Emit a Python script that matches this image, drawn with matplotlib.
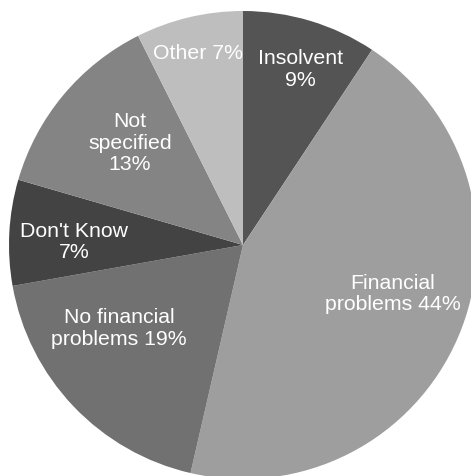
import numpy as np
import matplotlib.pyplot as plt

plt.rcParams['font.family'] = ['Liberation Sans', 'DejaVu Sans']

names = ["Insolvent", "Financial\nproblems", "No financial\nproblems", "Don't Know",
         "Not\nspecified", "Other"]
values = [9.3, 44.3, 18.6, 7.3, 13.1, 7.4]
colors = ["#545454", "#9e9e9e", "#717171", "#434343", "#848484", "#bebebe"]
# how the percentage is joined to the name, and where the label sits
joins = ["\n", " ", " ", "\n", "\n", " "]
label_r = [0.79, 0.674, 0.638, 0.722, 0.651, 0.84]
label_turn = [-1.4, 5.1, -9.7, 2.0, -2.2, 0.0]  # degrees off the wedge middle

fig = plt.figure(figsize=(4.71, 4.76), dpi=100)
ax = fig.add_axes([(243 - 234) / 471, (476 - 245 - 234) / 476, 468 / 471, 468 / 476])

wedges, _ = ax.pie(values, colors=colors, startangle=90, counterclock=False,
                   radius=1.0, wedgeprops=dict(linewidth=0))

for w, name, v, j, r, t in zip(wedges, names, values, joins, label_r, label_turn):
    mid = np.deg2rad((w.theta1 + w.theta2) / 2 + t)
    ax.text(r * np.cos(mid), r * np.sin(mid), f"{name}{j}{round(v)}%",
            ha="center", va="center", color="white", fontsize=15.3,
            linespacing=1.18)

ax.set_xlim(-1, 1)
ax.set_ylim(-1, 1)
ax.axis("off")

fig.savefig("out.png", dpi=100)
